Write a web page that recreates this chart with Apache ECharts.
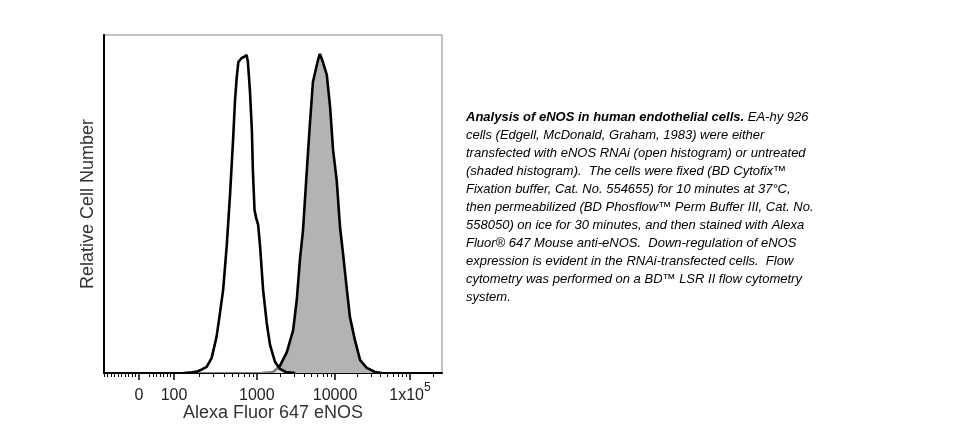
<!DOCTYPE html>
<html>
<head>
<meta charset="utf-8">
<script src="https://cdn.jsdelivr.net/npm/echarts@6/dist/echarts.min.js"></script>
<style>
html,body{margin:0;padding:0;background:#fff;}
#c{width:973px;height:435px;}
</style>
</head>
<body>
<div id="c"></div>
<script>
// Histogram data on the instrument channel scale (0..1024), relative counts (0..100)
var openChannel = [240, 268, 281, 291, 311, 326, 341, 351, 361, 372, 382, 391, 397, 402, 407, 417, 424, 432, 436, 442, 448, 451, 456, 461, 467, 473, 482, 493, 503, 518, 533, 551, 579];
var openCount   = [0, 0.2, 0.4, 0.8, 1.8, 4.4, 10.7, 17.5, 24.6, 37.9, 53.0, 68.9, 80.8, 87.3, 92.0, 93.2, 93.5, 94.1, 92.0, 83.7, 71.9, 60.1, 48.2, 45.9, 43.8, 37.3, 24.6, 14.8, 8.3, 3.3, 1.2, 0.3, 0];

var shadedChannel = [479, 512, 533, 554, 573, 584, 594, 603, 614, 624, 633, 644, 650, 654, 659, 664, 675, 685, 694, 705, 715, 724, 735, 745, 760, 776, 796, 821, 842];
var shadedCount   = [0, 0.3, 2.1, 6.2, 12.7, 21.6, 34.0, 42.3, 59.2, 74.0, 86.1, 90.8, 93.2, 94.4, 93.2, 91.7, 88.2, 78.7, 66.0, 57.0, 43.2, 35.5, 25.4, 16.6, 9.8, 3.8, 1.5, 0.3, 0];

// Biexponential display scale: fluorescence value -> channel anchors
var anchorValue   = [-100, 0, 100, 1000, 10000, 100000, 262144];
var anchorChannel = [0, 106, 212, 463, 700, 927, 1024];

// Tick values (fluorescence units)
var majorValues = [0, 100, 1000, 10000, 100000];
var majorLabels = ['0', '100', '1000', '10000', '1x10^5'];
var minorValues = [-100, -90, -80, -70, -60, -50, -40, -30, -20, -10,
  30, 40, 50, 60, 70, 80, 90,
  200, 300, 400, 500, 600, 700, 800, 900,
  2000, 3000, 4000, 5000, 6000, 7000, 8000, 9000,
  20000, 30000, 40000, 50000, 60000, 70000, 80000, 90000,
  200000];

function toChannel(v) {
  for (var i = 0; i < anchorValue.length - 1; i++) {
    var a = anchorValue[i], b = anchorValue[i + 1];
    if (v <= b || i === anchorValue.length - 2) {
      var t;
      if (a >= 100) t = (Math.log10(v) - Math.log10(a)) / (Math.log10(b) - Math.log10(a));
      else t = (v - a) / (b - a);
      return anchorChannel[i] + t * (anchorChannel[i + 1] - anchorChannel[i]);
    }
  }
}

var majorChannels = majorValues.map(toChannel);
var minorChannels = minorValues.map(toChannel);

function zip(xs, ys) { return xs.map(function (x, i) { return [x, ys[i]]; }); }

var FONT = 'Liberation Sans, Arial, sans-serif';
var chart = echarts.init(document.getElementById('c'));

chart.setOption({
  animation: false,
  backgroundColor: '#fff',
  grid: { left: 104, top: 35, width: 338, height: 338, show: true, borderColor: '#888', borderWidth: 1, backgroundColor: 'transparent' },
  xAxis: [{
    type: 'value', min: 0, max: 1024,
    axisLine: { show: true, lineStyle: { color: '#000', width: 2 } },
    axisTick: { show: true, customValues: majorChannels, length: 7, lineStyle: { color: '#000', width: 1.5 } },
    splitLine: { show: false },
    axisLabel: {
      show: true, customValues: majorChannels, margin: 9, color: '#222',
      fontFamily: FONT, fontSize: 16,
      formatter: function (val) {
        var best = 0, d = 1e9;
        for (var i = 0; i < majorChannels.length; i++) {
          var dd = Math.abs(majorChannels[i] - val);
          if (dd < d) { d = dd; best = i; }
        }
        var s = majorLabels[best];
        if (s.indexOf('^') >= 0) {
          var p = s.split('^');
          return '{a|' + p[0] + '}{s|' + p[1] + '}';
        }
        return '{a|' + s + '}';
      },
      rich: {
        a: { fontFamily: FONT, fontSize: 16, color: '#222', lineHeight: 28 },
        s: { fontFamily: FONT, fontSize: 12, color: '#222', verticalAlign: 'top', lineHeight: 11 }
      }
    },
    name: 'Alexa Fluor 647 eNOS', nameLocation: 'middle', nameGap: 31, nameMoveOverlap: false,
    nameTextStyle: { fontFamily: FONT, fontSize: 18, color: '#333' }
  }, {
    type: 'value', min: 0, max: 1024, position: 'bottom',
    axisLine: { show: false },
    axisTick: { show: true, customValues: minorChannels, length: 4, lineStyle: { color: '#000', width: 1 } },
    axisLabel: { show: false },
    splitLine: { show: false }
  }],
  yAxis: [{
    type: 'value', min: 0, max: 100,
    axisLine: { show: true, lineStyle: { color: '#000', width: 1.5 } },
    axisTick: { show: false }, axisLabel: { show: false }, splitLine: { show: false },
    name: 'Relative Cell Number', nameLocation: 'middle', nameGap: 7, nameMoveOverlap: false,
    nameTextStyle: { fontFamily: FONT, fontSize: 18, color: '#333' }
  }, {
    type: 'value', min: 0, max: 100, position: 'right',
    axisLine: { show: true, lineStyle: { color: '#000', width: 2 } },
    axisTick: { show: false }, axisLabel: { show: false }, splitLine: { show: false }
  }],
  series: [{
    name: 'Untreated', type: 'line', data: zip(shadedChannel, shadedCount),
    symbol: 'none', smooth: false, z: 2,
    lineStyle: { color: '#000', width: 2.6 },
    areaStyle: { color: '#b3b3b3', opacity: 1 }
  }, {
    name: 'eNOS RNAi', type: 'line', data: zip(openChannel, openCount),
    symbol: 'none', smooth: false, z: 3,
    lineStyle: { color: '#000', width: 2.6 },
    areaStyle: { color: '#ffffff', opacity: 0.5 }
  }],
  graphic: [{
    type: 'text', left: 466, top: 108,
    style: {
      text: '{b|Analysis of eNOS in human endothelial cells.} EA-hy 926\n' +
        'cells (Edgell, McDonald, Graham, 1983) were either\n' +
        'transfected with eNOS RNAi (open histogram) or untreated\n' +
        '(shaded histogram).  The cells were fixed (BD Cytofix\u2122\n' +
        'Fixation buffer, Cat. No. 554655) for 10 minutes at 37\u00b0C,\n' +
        'then permeabilized (BD Phosflow\u2122 Perm Buffer III, Cat. No.\n' +
        '558050) on ice for 30 minutes, and then stained with Alexa\n' +
        'Fluor\u00ae 647 Mouse anti-eNOS.  Down-regulation of eNOS\n' +
        'expression is evident in the RNAi-transfected cells.  Flow\n' +
        'cytometry was performed on a BD\u2122 LSR II flow cytometry\n' +
        'system.',
      fontFamily: FONT, fontSize: 13, fontStyle: 'italic', fill: '#000', lineHeight: 18,
      rich: {
        b: { fontFamily: FONT, fontSize: 13, fontStyle: 'italic', fontWeight: 'bold', fill: '#000', color: '#000', lineHeight: 18 }
      }
    }
  }]
});
</script>
</body>
</html>
